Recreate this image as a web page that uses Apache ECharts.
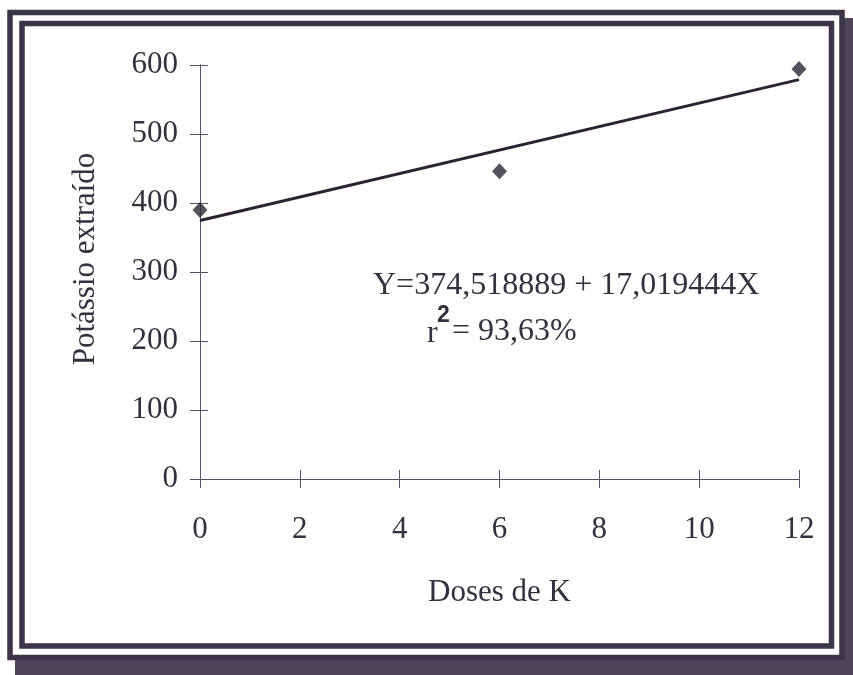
<!DOCTYPE html>
<html>
<head>
<meta charset="utf-8">
<style>
  html, body { margin: 0; padding: 0; background: #ffffff; }
  #chart { width: 853px; height: 675px; }
</style>
<script src="https://cdn.jsdelivr.net/npm/echarts@6/dist/echarts.min.js"></script>
</head>
<body>
<div id="chart"></div>
<script>
// Doses de K (x) and extracted potassium (y)
const doses = [0, 6, 12];
const potassio = [389.9, 445.9, 594.1];

// Fitted regression: Y = a + bX
const intercept = 374.518889;
const slope = 17.019444;
const r2Text = '93,63%';
const fitX = [0, 12];

const xTicks = { min: 0, max: 12, interval: 2 };
const yTicks = { min: 0, max: 600, interval: 100 };

const ink = '#3b3547';
const markInk = '#2b2636';
const textInk = '#34303f';
const axisInk = '#55526a';
const serif = '"Liberation Serif", "Times New Roman", serif';

const chart = echarts.init(document.getElementById('chart'));

const scatterData = doses.map((d, i) => [d, potassio[i]]);
const fitData = fitX.map(x => [x, intercept + slope * x]);

const eqText = 'Y=' + intercept.toFixed(6).replace('.', ',') + ' + ' + slope.toFixed(6).replace('.', ',') + 'X';

function baseAxis(range, extra) {
  return Object.assign({
    type: 'value', min: range.min, max: range.max, interval: range.interval,
    splitLine: { show: false },
    axisLine: { show: true, onZero: false, lineStyle: { color: axisInk, width: 1 } }
  }, extra);
}

chart.setOption({
  backgroundColor: '#ffffff',
  animation: false,
  grid: { left: 200, right: 54, top: 65, bottom: 196, containLabel: false },
  xAxis: [
    baseAxis(xTicks, {
      position: 'bottom',
      name: 'Doses de K', nameLocation: 'middle', nameGap: 98,
      nameTextStyle: { fontFamily: serif, fontSize: 31, color: textInk },
      axisLabel: { margin: 35, fontFamily: serif, fontSize: 31, color: textInk },
      axisTick: { show: true, inside: false, length: 9, lineStyle: { color: axisInk, width: 1 } }
    }),
    // inner half of the crossing ticks
    baseAxis(xTicks, {
      position: 'bottom',
      axisLabel: { show: false },
      axisTick: { show: true, inside: true, length: 9, lineStyle: { color: axisInk, width: 1 } }
    })
  ],
  yAxis: [
    baseAxis(yTicks, {
      position: 'left',
      name: 'Potássio extraído', nameLocation: 'middle', nameGap: 99, nameRotate: 90,
      nameTextStyle: { fontFamily: serif, fontSize: 31, color: textInk, padding: [0, 0, 0, 26] },
      axisLabel: { margin: 22, fontFamily: serif, fontSize: 31, color: textInk },
      axisTick: { show: true, inside: false, length: 10, lineStyle: { color: axisInk, width: 1 } }
    }),
    // inner half of the crossing ticks
    baseAxis(yTicks, {
      position: 'left',
      axisLabel: { show: false },
      axisTick: { show: true, inside: true, length: 8, lineStyle: { color: axisInk, width: 1 } }
    })
  ],
  series: [
    {
      type: 'line',
      data: fitData,
      xAxisIndex: 0, yAxisIndex: 0,
      showSymbol: false,
      lineStyle: { color: '#2a2432', width: 3 },
      z: 3
    },
    {
      type: 'scatter',
      data: scatterData,
      xAxisIndex: 0, yAxisIndex: 0,
      symbol: 'diamond',
      symbolSize: [15, 16],
      itemStyle: { color: markInk },
      z: 4
    }
  ],
  graphic: [
    // drop shadow behind the frame
    { type: 'rect', z: -10, shape: { x: 15, y: 18, width: 860, height: 680 },
      style: { fill: '#4c4558' } },
    // outer border
    { type: 'rect', z: -9, shape: { x: 10, y: 12.5, width: 832, height: 645 },
      style: { fill: '#ffffff', stroke: ink, lineWidth: 5.5 } },
    // inner border
    { type: 'rect', z: -8, shape: { x: 22, y: 23.5, width: 809.5, height: 622.5 },
      style: { fill: '#ffffff', stroke: ink, lineWidth: 5.5 } },
    // regression equation
    { type: 'text', z: 5, left: 373, top: 270,
      style: { text: eqText, font: '32px ' + serif, fill: textInk } },
    { type: 'text', z: 5, left: 427, top: 318,
      style: { text: 'r', font: '32px ' + serif, fill: textInk } },
    { type: 'text', z: 5, left: 437, top: 304,
      style: { text: '2', font: 'bold 23px "Liberation Sans", Arial, sans-serif', fill: textInk } },
    { type: 'text', z: 5, left: 452, top: 316,
      style: { text: '= ' + r2Text, font: '32px ' + serif, fill: textInk } }
  ]
});
</script>
</body>
</html>
